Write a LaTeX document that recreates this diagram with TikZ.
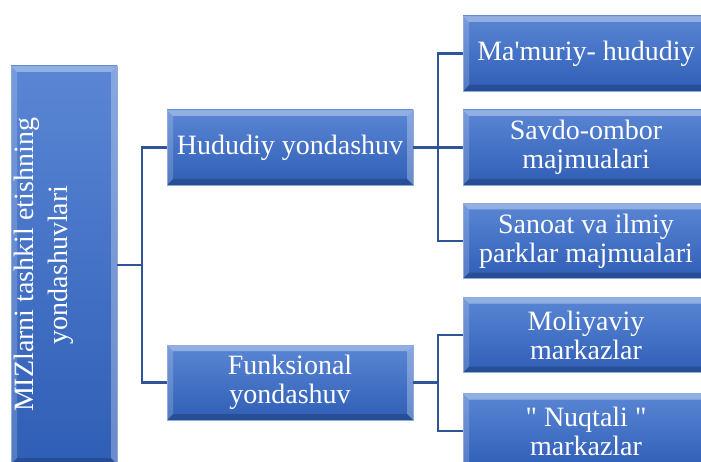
\documentclass[tikz,border=0pt]{standalone}
\usepackage{fontspec}
\setmainfont{Liberation Serif}
\usepackage[rgb]{xcolor}
\usepackage{tikz}
\usetikzlibrary{calc}

\definecolor{boxtop}{HTML}{5A86D4}
\definecolor{boxbot}{HTML}{2F5EB6}
\definecolor{boxedge}{HTML}{8FAADC}
\definecolor{linkblue}{HTML}{2F5597}

\tikzset{
  bluebox/.style={rectangle, draw=boxedge, line width=0.8pt,
    top color=boxtop, bottom color=boxbot, text=white, align=center,
    inner sep=0pt, minimum width=246pt, minimum height=75pt,
    font=\fontsize{28}{29}\selectfont,
    path picture={
      \coordinate (bnw) at (path picture bounding box.north west);
      \coordinate (bne) at (path picture bounding box.north east);
      \coordinate (bsw) at (path picture bounding box.south west);
      \coordinate (bse) at (path picture bounding box.south east);
      \fill[white, opacity=0.35] (bnw) -- (bne) -- ($(bne)+(-6pt,-6pt)$) -- ($(bnw)+(6pt,-6pt)$) -- cycle;
      \fill[white, opacity=0.18] (bnw) -- ($(bnw)+(6pt,-6pt)$) -- ($(bsw)+(6pt,6pt)$) -- (bsw) -- cycle;
      \fill[white, opacity=0.28] (bne) -- (bse) -- ($(bse)+(-6pt,6pt)$) -- ($(bne)+(-6pt,-6pt)$) -- cycle;
      \fill[black, opacity=0.18] (bsw) -- (bse) -- ($(bse)+(-6pt,6pt)$) -- ($(bsw)+(6pt,6pt)$) -- cycle;
    }},
  link/.style={draw=linkblue, line width=2.2pt}
}

\begin{document}
\begin{tikzpicture}[x=1pt, y=1pt]

\useasboundingbox (0,0) rectangle (701,461);
\clip (0,0) rectangle (701,461);

%
% Root box
%
\path 
(64,196) node [bluebox, minimum width=106pt, minimum height=398pt] (root) {};

\path 
(44,196) node [rotate=90, text=white, align=center, font=\fontsize{28}{34}\selectfont] (roottext) {MIZlarni tashkil etishning\\yondashuvlari};


%
% Middle level
%
\path 
(290,313.5) node [bluebox] (hud) {Hududiy yondashuv};

\path 
(290,78.5) node [bluebox] (fun) {Funksional\\yondashuv};


%
% Right level, Hududiy branch
%
\path 
(586,407.5) node [bluebox] (mam) {Ma\textquotesingle muriy- hududiy};

\path 
(586,313.5) node [bluebox] (sav) {Savdo-ombor\\majmualari};

\path 
(586,220) node [bluebox] (san) {Sanoat va ilmiy\\parklar majmualari};


%
% Right level, Funksional branch
%
\path 
(586,126) node [bluebox] (mol) {Moliyaviy\\markazlar};

\path 
(586,30) node [bluebox] (nuq) {\textquotedbl{} Nuqtali \textquotedbl\\markazlar};


% Root links
\draw[link] (root.east) -- ++(25,0);
\draw[link] (hud.west) -- ++(-25,0) |- (fun.west);

% Hududiy links
\draw[link] (hud.east) -- (sav.west);
\draw[link] (mam.west) -- ++(-25,0) |- (san.west);

% Funksional links
\draw[link] (fun.east) -- ++(25,0);
\draw[link] (mol.west) -- ++(-25,0) |- (nuq.west);

\end{tikzpicture}
\end{document}
